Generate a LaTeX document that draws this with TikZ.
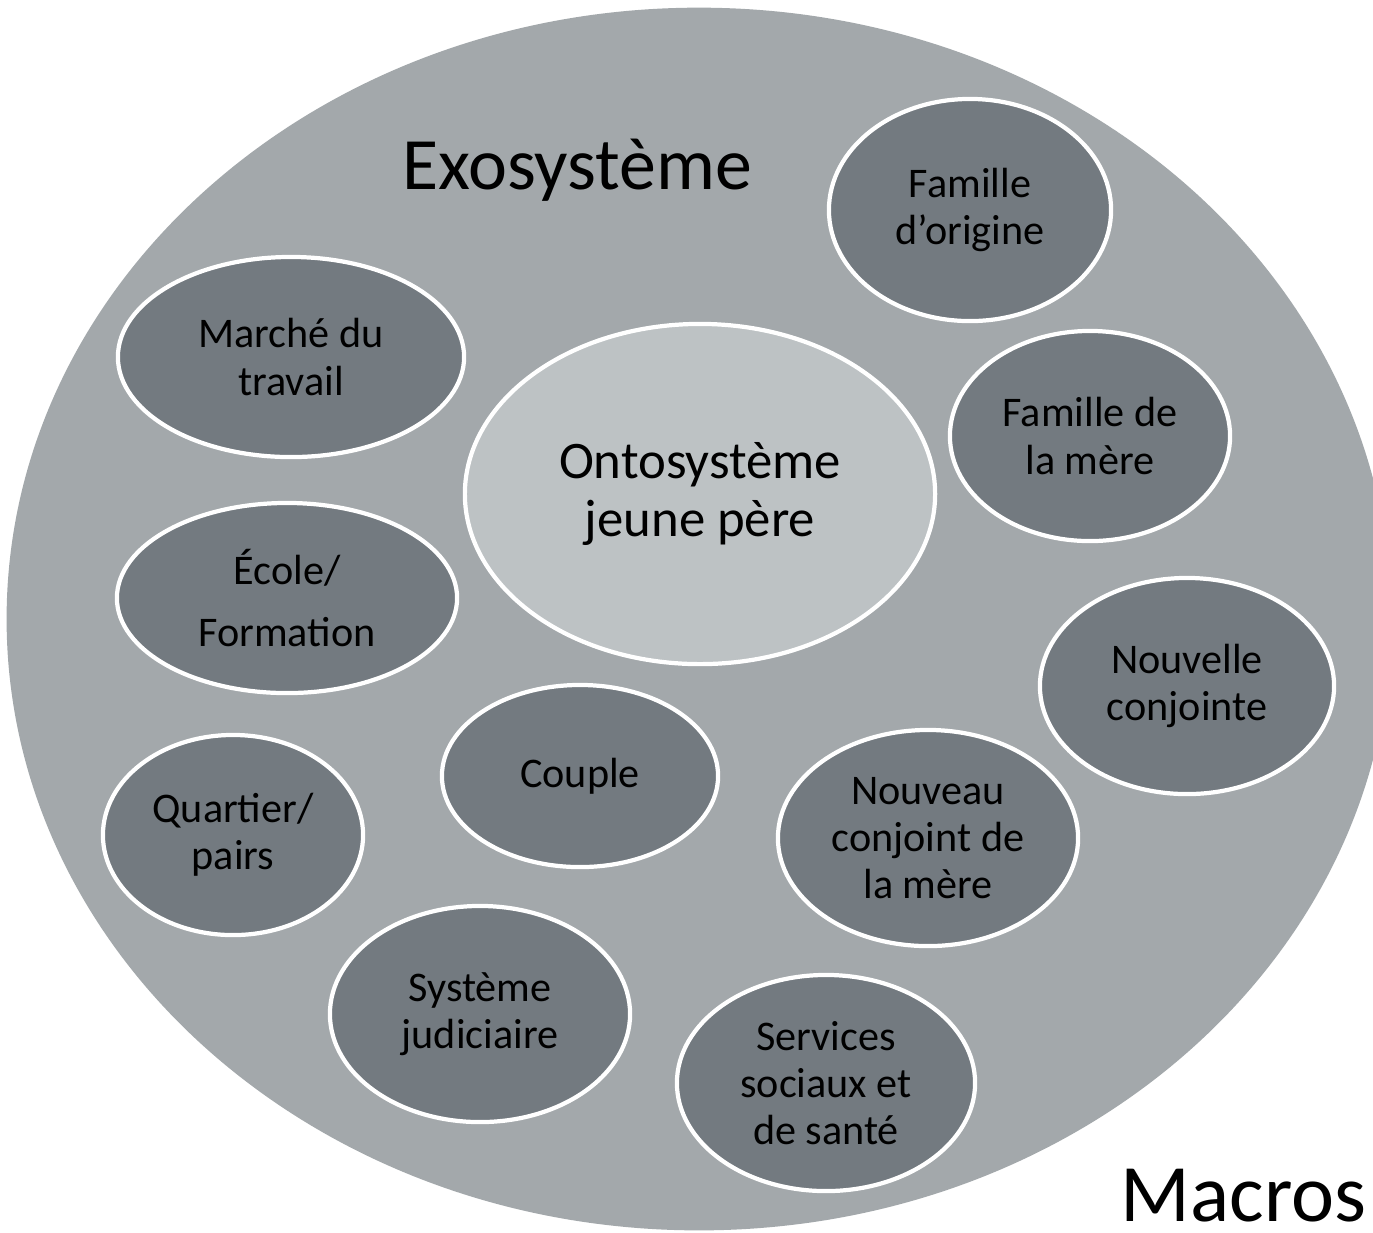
\documentclass[tikz,border=0pt]{standalone}
\usepackage{fontspec}
\setmainfont{Carlito}
\usetikzlibrary{shapes.geometric}

\definecolor{exogris}{HTML}{A3A8AB}
\definecolor{sysgris}{HTML}{737A80}
\definecolor{ontogris}{HTML}{BDC2C4}

\tikzset{
  systeme/.style={ellipse, fill=sysgris, draw=white, line width=1.2pt,
    inner sep=0pt, align=center, text=black,
    font=\fontsize{12}{13.4}\selectfont},
  taille/.style 2 args={minimum width=#1cm, minimum height=#2cm},
}

\begin{document}
\begin{tikzpicture}[x=0.01cm,y=-0.01cm]
  %CADRE
  \clip (0,0) rectangle (1373,1232);
  \fill[white] (0,0) rectangle (1373,1232);

  %EXOSYSTEME
  \node[ellipse, fill=exogris, inner sep=0pt, taille={13.84}{12.22}] (exosys) at (699,619) {};
  \node[anchor=base, font=\fontsize{21}{25}\selectfont] (exo) at (577,189) {Exosystème};

  %ONTOSYSTEME
  \node[systeme, fill=ontogris, taille={4.7}{3.4}, font=\fontsize{15}{16.3}\selectfont] (onto) at (700,494) {Ontosystème\\jeune père};

  %SYSTEMES
  \node[systeme, taille={2.82}{2.22}] (origine) at (970,210) {Famille\\d’origine};
  \node[systeme, taille={3.46}{2.0}] (marche) at (291,357) {Marché du\\travail};
  \node[systeme, taille={2.8}{2.1}] (famere) at (1090,436) {Famille de\\la mère};
  \node[systeme, taille={3.4}{1.9}] (ecole) at (287,598) {École/\\[4pt]Formation};
  \node[systeme, taille={2.94}{2.16}] (conjointe) at (1187,686) {Nouvelle\\conjointe};
  \node[systeme, taille={2.76}{1.82}] (couple) at (580,776) {Couple};
  \node[systeme, taille={2.6}{2.0}] (quartier) at (233,835) {Quartier/\\pairs};
  \node[systeme, taille={3.0}{2.16}] (conjoint) at (928,838) {Nouveau\\conjoint de\\la mère};
  \node[systeme, taille={3.0}{2.16}] (judiciaire) at (480,1014) {Système\\judiciaire};
  \node[systeme, taille={2.98}{2.16}] (services) at (826,1083) {Services\\sociaux et\\de santé};

  %MACROSYSTEME
  \node[anchor=base west, inner sep=0pt, font=\fontsize{23.2}{28}\selectfont] (macro) at (1120,1221) {Macros};
\end{tikzpicture}
\end{document}
